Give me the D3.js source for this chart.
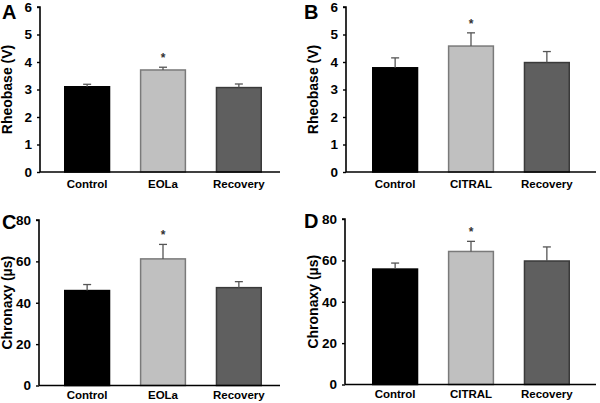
<!DOCTYPE html>
<html><head><meta charset="utf-8">
<script src="https://cdn.jsdelivr.net/npm/d3@7"></script>
<style>body{margin:0;background:#fff}svg{display:block}text{font-family:"Liberation Sans",Arial,sans-serif;font-weight:bold}</style>
</head><body><svg id="c" width="600" height="403"></svg>
<script>
const catsA = ["Control","EOLa","Recovery"];
const catsB = ["Control","CITRAL","Recovery"];
const rheoA = [3.10,3.71,3.07];
const rheoAErr = [0.09,0.10,0.13];
const rheoB = [3.79,4.58,3.98];
const rheoBErr = [0.36,0.48,0.40];
const chronC = [45.9,61.2,47.3];
const chronCErr = [2.9,7.0,2.9];
const chronD = [55.8,64.3,59.7];
const chronDErr = [2.9,4.9,6.8];
const sigA = [false,true,false];
const rheoTicks = [0,1,2,3,4,5,6];
const chronTicks = [0,20,40,60,80];
const barColors = ["#000000","#c0c0c0","#5f5f5f"];
const barStrokes = ["#000000","#7a7a7a","#3a3a3a"];

const svg = d3.select("#c");
const panels = [
 {letter:"A",cats:catsA,vals:rheoA,err:rheoAErr,ticks:rheoTicks,max:6,title:"Rheobase (V)",ax:40,top:7,bot:172,right:280,barL:64,barR:262,labY:188,titleX:12,letterX:2,letterY:19},
 {letter:"B",cats:catsB,vals:rheoB,err:rheoBErr,ticks:rheoTicks,max:6,title:"Rheobase (V)",ax:346,top:7,bot:172,right:596,barL:372,barR:570,labY:188,titleX:318,letterX:304,letterY:19},
 {letter:"C",cats:catsA,vals:chronC,err:chronCErr,ticks:chronTicks,max:80,title:"Chronaxy (µs)",ax:39,top:220,bot:385.5,right:280,barL:64,barR:262,labY:399,titleX:12,letterX:2,letterY:229},
 {letter:"D",cats:catsB,vals:chronD,err:chronDErr,ticks:chronTicks,max:80,title:"Chronaxy (µs)",ax:345,top:219,bot:384.5,right:596,barL:372,barR:570,labY:398,titleX:318,letterX:304,letterY:228}
];

panels.forEach(p=>{
  const g = svg.append("g");
  const y = d3.scaleLinear().domain([0,p.max]).range([p.bot,p.top]);
  const x = d3.scaleBand().domain(p.cats).range([p.barL,p.barR]).paddingInner(0.39).paddingOuter(0);
  g.selectAll("rect.bar").data(p.vals).join("rect")
    .attr("x",(d,i)=>x(p.cats[i])+0.75).attr("width",x.bandwidth()-1.5)
    .attr("y",d=>y(d)).attr("height",d=>p.bot-y(d))
    .attr("fill",(d,i)=>barColors[i]).attr("stroke",(d,i)=>barStrokes[i]).attr("stroke-width",1.5);
  p.vals.forEach((v,i)=>{
    const cx = x(p.cats[i])+x.bandwidth()/2;
    g.append("line").attr("x1",cx).attr("x2",cx).attr("y1",y(v)).attr("y2",y(v+p.err[i])).attr("stroke","#555").attr("stroke-width",1.3);
    g.append("line").attr("x1",cx-4).attr("x2",cx+4).attr("y1",y(v+p.err[i])).attr("y2",y(v+p.err[i])).attr("stroke","#555").attr("stroke-width",1.3);
    if(sigA[i]) g.append("text").attr("x",cx).attr("y",y(v+p.err[i])-5).attr("text-anchor","middle").attr("font-size",12).attr("fill","#333").text("*");
  });
  const ya = g.append("g").attr("transform",`translate(${p.ax},0)`)
    .call(d3.axisLeft(y).tickValues(p.ticks).tickSize(3).tickPadding(5).tickFormat(d3.format("d")));
  ya.select(".domain").attr("stroke","#000").attr("stroke-width",1.6).attr("d",`M-3,${p.top}H0V${p.bot}`);
  ya.selectAll(".tick line").attr("stroke","#000").attr("stroke-width",1.4);
  ya.selectAll(".tick text").attr("font-size",13.5).attr("font-weight","bold").attr("font-family","Liberation Sans, Arial").attr("fill","#000");
  g.append("line").attr("x1",p.ax).attr("x2",p.right).attr("y1",p.bot).attr("y2",p.bot).attr("stroke","#000").attr("stroke-width",1.6);
  g.selectAll("text.cat").data(p.cats).join("text").attr("class","cat")
    .attr("x",d=>x(d)+x.bandwidth()/2).attr("y",p.labY).attr("text-anchor","middle")
    .attr("font-size",11.5).attr("fill","#000").text(d=>d);
  g.append("text").attr("transform",`translate(${p.titleX},${(p.top+p.bot)/2}) rotate(-90)`)
    .attr("text-anchor","middle").attr("font-size",14).attr("fill","#000").text(p.title);
  g.append("text").attr("x",p.letterX).attr("y",p.letterY).attr("font-size",20).attr("fill","#000").text(p.letter);
});
</script></body></html>
